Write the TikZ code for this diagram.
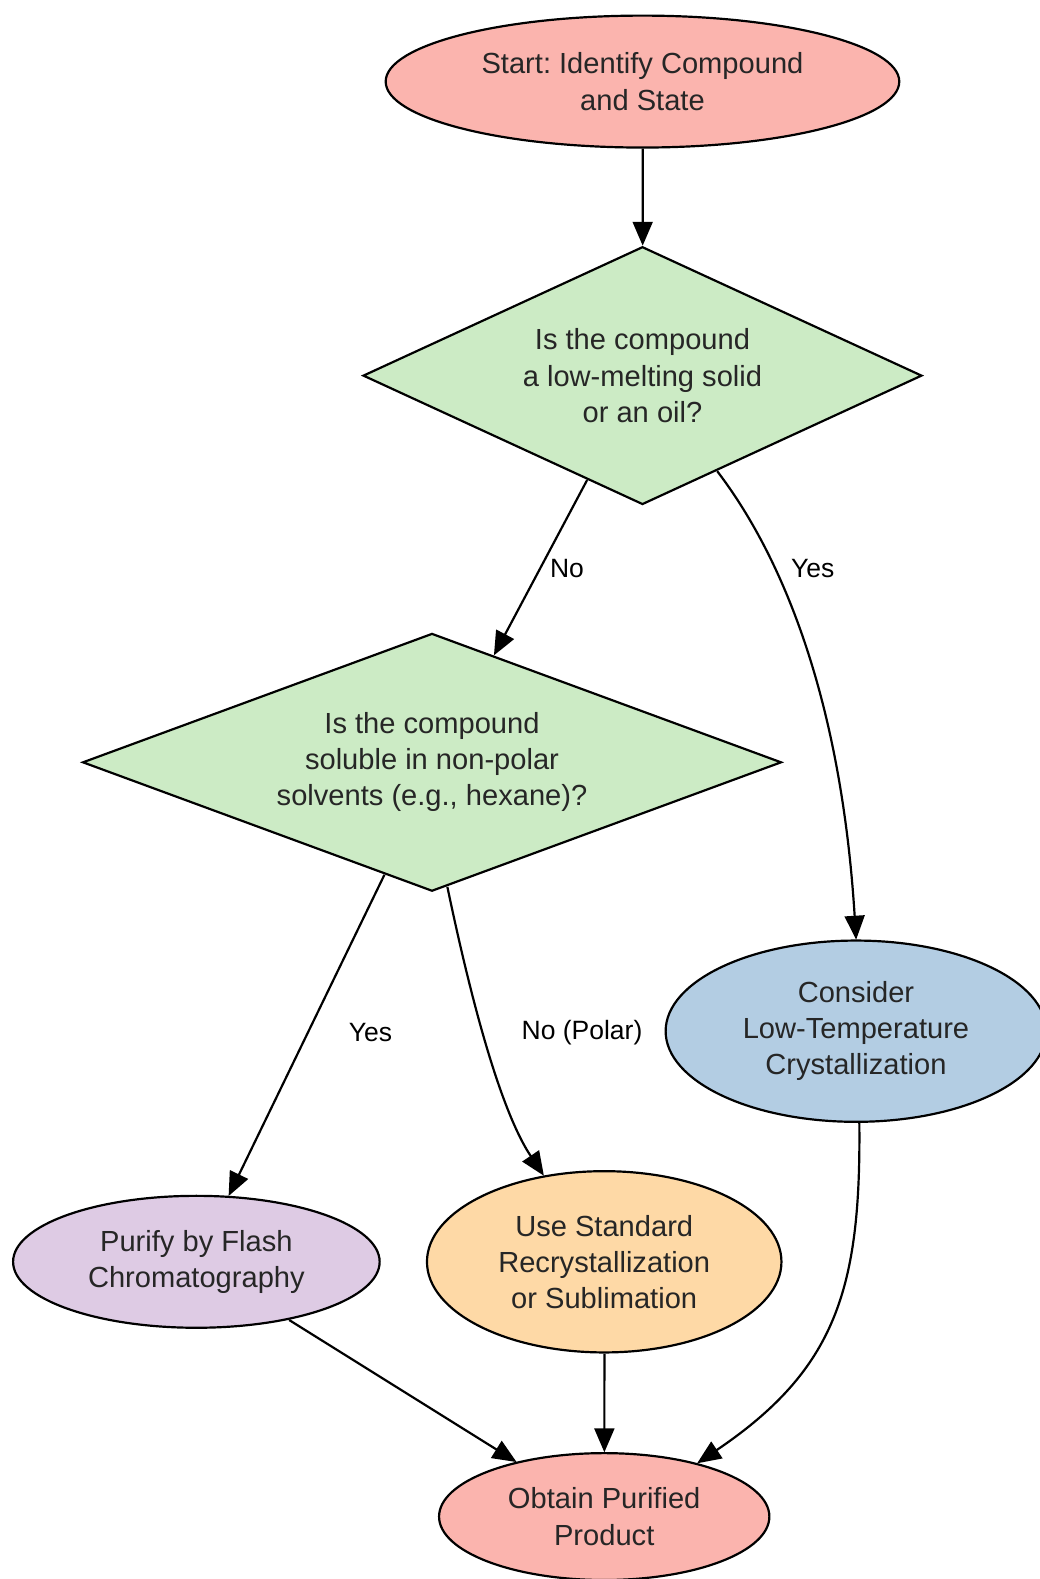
\documentclass[tikz,border=0pt]{standalone}
\usepackage{fontspec}
\setmainfont{Liberation Sans}
\usetikzlibrary{shapes.geometric,arrows.meta}
\frenchspacing
\definecolor{cstart}{HTML}{FBB4AE}
\definecolor{cdec}{HTML}{CCEBC5}
\definecolor{cblue}{HTML}{B3CDE3}
\definecolor{cpurple}{HTML}{DECBE4}
\definecolor{corange}{HTML}{FED9A6}
\definecolor{ctext}{HTML}{262626}
\tikzset{
  base/.style={draw=black, line width=1.1pt, inner sep=0pt, align=center, text=ctext,
    font=\fontsize{14.5}{18}\selectfont},
  oval/.style={base, ellipse},
  decision/.style={base, diamond, aspect=2.17},
  conn/.style={line width=1.1pt, -{Triangle[length=12pt,width=10pt]}},
  elabel/.style={font=\fontsize{13.2}{15}\selectfont, text=black, inner sep=0pt}
}
\begin{document}
\begin{tikzpicture}[x=0.5bp,y=-0.5bp,scale=1.007,transform shape]
\useasboundingbox (0,0) rectangle (1031.8,1568);
\node[oval, fill=cstart, minimum width=255bp, minimum height=65.5bp] (start) at (638,81) {Start: Identify Compound\\and State};
\node[decision, fill=cdec, minimum width=277.5bp, minimum height=128bp] (d1) at (638,373) {Is the compound\\a low-melting solid\\or an oil?};
\node[decision, fill=cdec, minimum width=347bp, minimum height=128bp] (d2) at (429,757) {Is the compound\\soluble in non-polar\\solvents (e.g., hexane)?};
\node[oval, fill=cblue, minimum width=189bp, minimum height=90bp] (cons) at (850,1024) {Consider\\Low-Temperature\\Crystallization};
\node[oval, fill=cpurple, minimum width=182bp, minimum height=65.5bp] (flash) at (195,1253) {Purify by Flash\\Chromatography};
\node[oval, fill=corange, minimum width=176bp, minimum height=90bp] (recr) at (600,1253) {Use Standard\\Recrystallization\\or Sublimation};
\node[oval, fill=cstart, minimum width=164bp, minimum height=63bp] (prod) at (600,1506) {Obtain Purified\\Product};

\draw[conn] (start) -- (d1);
\draw[conn] (d1.-118) -- (d2.60);
\node[elabel] (lno1) at (563,565) {No};
\draw[conn] (d1.-52) .. controls (775,550) and (835,690) .. (cons.north);
\node[elabel] (lyes1) at (807,565) {Yes};
\draw[conn] (d2.-113) -- (flash.64);
\node[elabel] (lyes2) at (368,1025) {Yes};
\draw[conn] (d2.-83) .. controls (465,980) and (495,1100) .. (recr.125);
\node[elabel] (lno2) at (578,1025) {No (Polar)};
\draw[conn] (flash.-32) -- (prod.148);
\draw[conn] (recr) -- (prod);
\draw[conn] (cons.-88) .. controls (855,1280) and (830,1360) .. (prod.30);
\end{tikzpicture}
\end{document}
